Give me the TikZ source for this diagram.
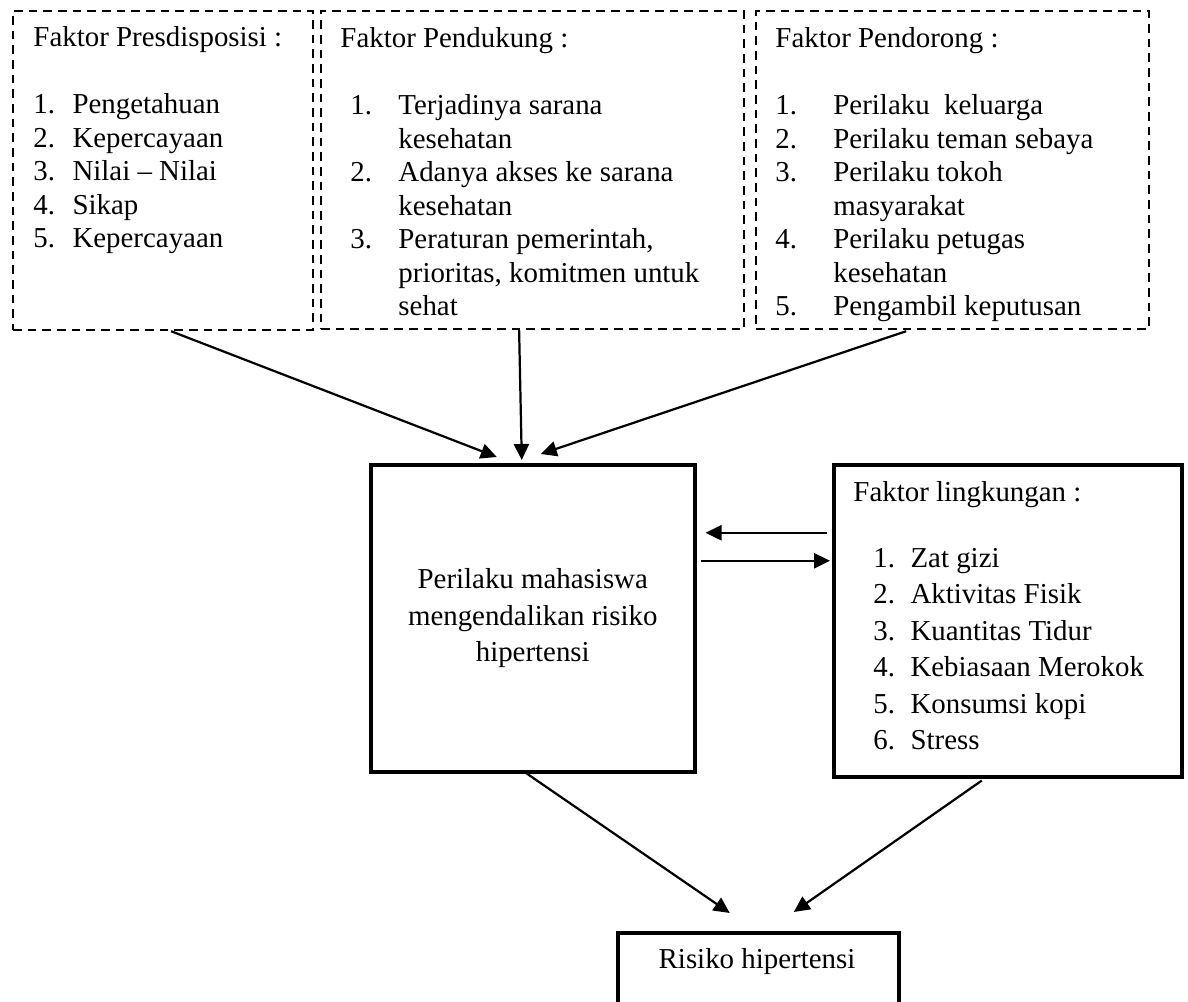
\documentclass[tikz,border=0pt]{standalone}
\usepackage{fontspec}
\setmainfont{Liberation Serif}
\usepackage{tikz}
\usetikzlibrary{arrows.meta,calc,positioning}
\tikzset{
  every node/.style={
    font=\fontsize{13}{15.1}\selectfont
  },
  factor/.style n args={2}{
    shape=rectangle,
    draw,
    dash pattern=on 3.9pt off 2.7pt,
    line width=1pt,
    minimum width=#1*0.45pt,
    minimum height=#2*0.45pt,
    inner sep=0pt,
    anchor=north west
  },
  outcome/.style n args={2}{
    shape=rectangle,
    draw,
    line width=1.6pt,
    minimum width=#1*0.45pt,
    minimum height=#2*0.45pt,
    inner sep=0pt,
    anchor=north west
  },
  listing/.style={
    anchor=north west,
    inner sep=0pt,
    align=left
  },
  link/.style={
    -{Triangle[length=7.2pt,width=6.8pt]},
    line width=1pt
  }
}

\begin{document}
\begin{tikzpicture}[x=0.45pt,y=-0.45pt]

\useasboundingbox (0,0) rectangle (1188,1002);
\clip (0,0) rectangle (1188,1002);

% three dashed factor boxes
\node [factor={300}{319}] (presdis) at (12,10) {};
\node [factor={423}{318}] (pendukung) at (320,10) {};
\node [factor={393}{318}] (pendorong) at (755,10) {};

\node [listing] (presdis text) at (33,26) {
  Faktor Presdisposisi :\\[15.1pt]
  \makebox[17.6pt][l]{1.}Pengetahuan\\
  \makebox[17.6pt][l]{2.}Kepercayaan\\
  \makebox[17.6pt][l]{3.}Nilai -- Nilai\\
  \makebox[17.6pt][l]{4.}Sikap\\
  \makebox[17.6pt][l]{5.}Kepercayaan
};
\node [listing] (pendukung text) at (340,27) {
  Faktor Pendukung :\\[15.1pt]
  \hspace*{4.5pt}\makebox[21.6pt][l]{1.}Terjadinya sarana\\
  \hspace*{26.1pt}kesehatan\\
  \hspace*{4.5pt}\makebox[21.6pt][l]{2.}Adanya akses ke sarana\\
  \hspace*{26.1pt}kesehatan\\
  \hspace*{4.5pt}\makebox[21.6pt][l]{3.}Peraturan pemerintah,\\
  \hspace*{26.1pt}prioritas, komitmen untuk\\
  \hspace*{26.1pt}sehat
};
\node [listing] (pendorong text) at (775,27) {
  Faktor Pendorong :\\[15.1pt]
  \makebox[26.1pt][l]{1.}Perilaku\ \ keluarga\\
  \makebox[26.1pt][l]{2.}Perilaku teman sebaya\\
  \makebox[26.1pt][l]{3.}Perilaku tokoh\\
  \hspace*{26.1pt}masyarakat\\
  \makebox[26.1pt][l]{4.}Perilaku petugas\\
  \hspace*{26.1pt}kesehatan\\
  \makebox[26.1pt][l]{5.}Pengambil keputusan
};

% behaviour, environment and outcome boxes
\node [outcome={324}{307}, align=center, font=\fontsize{13}{16.4}\selectfont] (perilaku) at (369,463) {
  Perilaku mahasiswa\\mengendalikan risiko\\hipertensi
};
\node [outcome={348}{312}] (lingkungan) at (832,463) {};
\node [listing, font=\fontsize{13}{16.4}\selectfont] (lingkungan text) at (853,481) {
  Faktor lingkungan :\\[13.3pt]
  \hspace*{9pt}\makebox[16.7pt][l]{1.}Zat gizi\\
  \hspace*{9pt}\makebox[16.7pt][l]{2.}Aktivitas Fisik\\
  \hspace*{9pt}\makebox[16.7pt][l]{3.}Kuantitas Tidur\\
  \hspace*{9pt}\makebox[16.7pt][l]{4.}Kebiasaan Merokok\\
  \hspace*{9pt}\makebox[16.7pt][l]{5.}Konsumsi kopi\\
  \hspace*{9pt}\makebox[16.7pt][l]{6.}Stress
};
\node [outcome={281}{100}] (risiko) at (616,931) {};
\node [anchor=north, inner sep=0pt] (risiko text) at (757,948) {Risiko hipertensi};

% connectors
\draw [link] ($(presdis.south)+(8,0)$) -- ($(perilaku.north)+(-36,-6)$);
\draw [link] ($(pendukung.south)+(-13.5,0)$) -- ($(perilaku.north)+(-11,-3)$);
\draw [link] ($(pendorong.south)+(-46.5,1)$) -- ($(perilaku.north)+(8,-9)$);
\draw [link] ($(lingkungan.west)+(-5,-88)$) -- ($(perilaku.east)+(9,-85.5)$);
\draw [link] ($(perilaku.east)+(4,-57.5)$) -- ($(lingkungan.west)+(-2,-60)$);
\draw [link] ($(perilaku.south)+(-6,0)$) -- ($(risiko.north)+(-28.5,-18)$);
\draw [link] ($(lingkungan.south)+(-26,2)$) -- ($(risiko.north)+(35.5,-19)$);

\end{tikzpicture}
\end{document}
